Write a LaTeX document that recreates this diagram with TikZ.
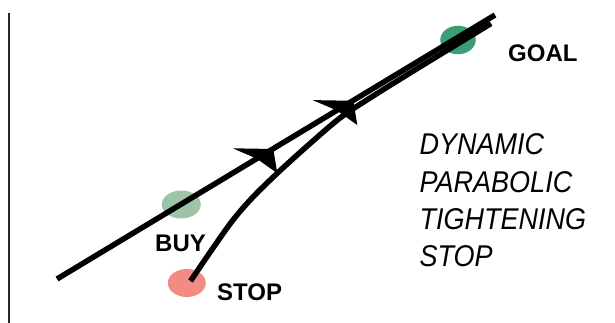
\documentclass[tikz,border=0pt]{standalone}
\usepackage{fontspec}
\setmainfont{Liberation Sans}
\newfontfamily\descfont[FakeStretch=0.9]{Liberation Sans}
\usetikzlibrary{shapes.geometric}
\definecolor{goalgreen}{HTML}{3A9E74}
\definecolor{buygreen}{HTML}{9DC4A9}
\definecolor{stopred}{HTML}{F28B82}
\begin{document}
\begin{tikzpicture}[x=1pt,y=-1pt,
  dot/.style={ellipse, inner sep=0pt, draw=none},
  trend/.style={line width=5.5pt, black},
  axisline/.style={line width=2pt, black!85},
  head/.style={fill=black},
  lab/.style={font=\fontsize{24}{28}\selectfont\bfseries, inner sep=0pt, anchor=base west},
  desc/.style={font=\descfont\itshape\fontsize{30}{36}\selectfont, inner sep=0pt, anchor=base west}]
\useasboundingbox (0,0) rectangle (615,323);

% axis
\coordinate (ax1) at (9.3,13);
\coordinate (ax2) at (9.3,323);
\draw[axisline] (ax1) -- (ax2);

% dots
\node[dot, fill=goalgreen, minimum width=35.5pt, minimum height=28.5pt] (goal) at (458,40) {};
\node[dot, fill=buygreen, minimum width=39pt, minimum height=28pt] (buy) at (181.3,204.5) {};
\node[dot, fill=stopred, minimum width=38pt, minimum height=28pt] (stop) at (186.8,283) {};

% straight trend line
\coordinate (ls) at (57,279);
\coordinate (le) at (495,15);
\draw[trend] (ls) -- (le);

% tightening stop curve
\coordinate (cs) at (190.5,281);
\coordinate (ce) at (491,23.5);
\draw[trend, line join=round] plot[smooth, tension=0.55] coordinates {(cs) (213,248) (233,220) (253,197) (277,173.5) (305,148) (340,118) (370,98) (410,73) (450,48.5) (ce)};

% arrowheads
\coordinate (n1) at (256.7,158.6);
\coordinate (n2) at (336.7,110.4);
\begin{scope}[shift={(n1)}]
\fill[head] (0,0) -- (-24,-10.3) -- (16.6,-9.6) -- (20.6,14.7) -- cycle;
\end{scope}
\begin{scope}[shift={(n2)}]
\fill[head] (0,0) -- (-24,-10.3) -- (16.6,-9.6) -- (20.6,14.7) -- cycle;
\end{scope}

% labels
\node[lab] (goallab) at (508,61.7) {GOAL};
\node[lab] (buylab) at (155,251.7) {BUY};
\node[lab] (stoplab) at (217,300) {STOP};

\node[desc] (d1) at (419.5,155) {DYNAMIC};
\node[desc] (d2) at (419.5,192.2) {PARABOLIC};
\node[desc] (d3) at (419.5,229.4) {TIGHTENING};
\node[desc] (d4) at (419.5,266.7) {STOP};
\end{tikzpicture}
\end{document}
